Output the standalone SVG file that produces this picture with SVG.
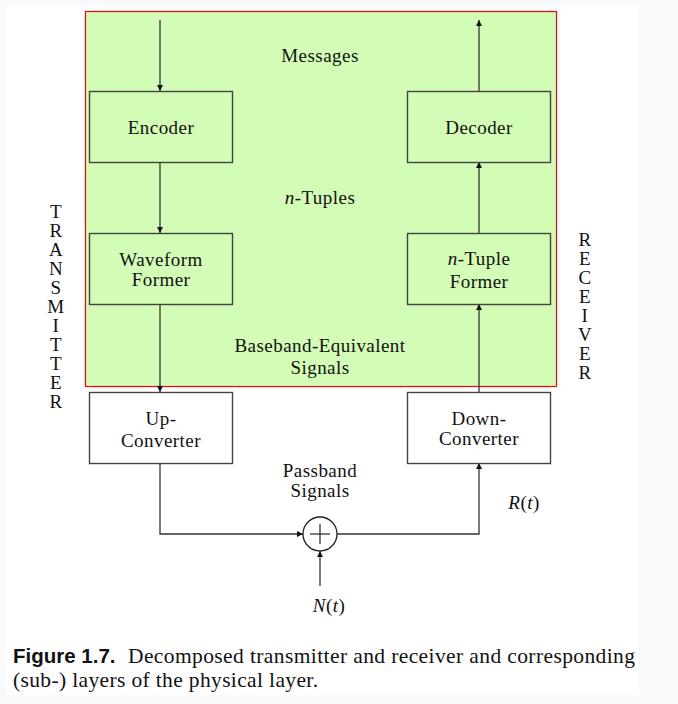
<svg xmlns="http://www.w3.org/2000/svg" width="678" height="704" viewBox="0 0 678 704">
<defs>
<marker id="ah" viewBox="0 0 10 10" refX="10" refY="5" markerWidth="6" markerHeight="8" orient="auto" markerUnits="userSpaceOnUse">
<path d="M0,0 L10,5 L0,10 Z" fill="#111"/>
</marker>
<style>
.box{fill:#d3fcb6;stroke:#444;stroke-width:1.4}
.wbox{fill:#ffffff;stroke:#444;stroke-width:1.4}
.ln{fill:none;stroke:#333;stroke-width:1.3}
.t{font-family:"Liberation Serif","DejaVu Serif",serif;font-size:19px;fill:#111;text-anchor:middle;letter-spacing:0.45px}
.it{font-style:italic}
.cap{font-family:"Liberation Serif","DejaVu Serif",serif;font-size:21.5px;fill:#111}
.capb{font-family:"Liberation Sans",Arial,sans-serif;font-size:20.5px;font-weight:bold;fill:#111}
</style>
</defs>
<rect x="0" y="0" width="678" height="704" fill="#f8f9fa"/>
<rect x="6" y="5" width="633" height="690" fill="#ffffff"/>
<rect id="layer" x="85.5" y="11.5" width="471" height="375" fill="#d3fcb6" stroke="#ff0000" stroke-width="1.2"/>

<g id="connectors">
<line class="ln" x1="160" y1="20" x2="160" y2="91" marker-end="url(#ah)"/>
<line class="ln" x1="160" y1="162" x2="160" y2="233" marker-end="url(#ah)"/>
<line class="ln" x1="160" y1="304" x2="160" y2="392" marker-end="url(#ah)"/>
<polyline class="ln" points="160,463 160,534 303,534" marker-end="url(#ah)"/>
<polyline class="ln" points="337,534 479,534 479,463" marker-end="url(#ah)"/>
<line class="ln" x1="320" y1="586" x2="320" y2="551" marker-end="url(#ah)"/>
<line class="ln" x1="479" y1="392" x2="479" y2="304" marker-end="url(#ah)"/>
<line class="ln" x1="479" y1="233" x2="479" y2="162" marker-end="url(#ah)"/>
<line class="ln" x1="479" y1="91" x2="479" y2="20" marker-end="url(#ah)"/>
</g>

<g id="encoder"><rect class="box" x="89.5" y="91.5" width="143" height="71"/><text class="t" x="161" y="134">Encoder</text></g>
<g id="decoder"><rect class="box" x="407.5" y="91.5" width="143" height="71"/><text class="t" x="479" y="134">Decoder</text></g>
<g id="waveform"><rect class="box" x="89.5" y="233.5" width="143" height="71"/><text class="t" x="161" y="266">Waveform</text><text class="t" x="161" y="286">Former</text></g>
<g id="ntuple"><rect class="box" x="407.5" y="233.5" width="143" height="71"/><text class="t" x="479" y="265"><tspan class="it">n</tspan>-Tuple</text><text class="t" x="479" y="288">Former</text></g>
<g id="upconv"><rect class="wbox" x="89.5" y="392.5" width="143" height="71"/><text class="t" x="161" y="425">Up-</text><text class="t" x="161" y="447">Converter</text></g>
<g id="downconv"><rect class="wbox" x="407.5" y="392.5" width="143" height="71"/><text class="t" x="479" y="425">Down-</text><text class="t" x="479" y="445">Converter</text></g>
<g id="adder"><circle cx="320" cy="534" r="17" fill="#fff" stroke="#222" stroke-width="1.3"/><line x1="310" y1="534" x2="330" y2="534" stroke="#222" stroke-width="1.2"/><line x1="320" y1="524" x2="320" y2="544" stroke="#222" stroke-width="1.2"/></g>

<g id="labels">
<text class="t" x="320" y="62">Messages</text>
<text class="t" x="320" y="204"><tspan class="it">n</tspan>-Tuples</text>
<text class="t" x="320" y="352">Baseband-Equivalent</text>
<text class="t" x="320" y="374">Signals</text>
<text class="t" x="320" y="477">Passband</text>
<text class="t" x="320" y="497">Signals</text>
<text class="t" x="524" y="509" letter-spacing="1.5"><tspan class="it">R</tspan>(<tspan class="it">t</tspan>)</text>
<text class="t" x="329" y="612" letter-spacing="1.5"><tspan class="it">N</tspan>(<tspan class="it">t</tspan>)</text>
</g>

<g id="transmitter">
<text class="t" x="56" y="218">T</text>
<text class="t" x="56" y="237">R</text>
<text class="t" x="56" y="256">A</text>
<text class="t" x="56" y="275">N</text>
<text class="t" x="56" y="294">S</text>
<text class="t" x="56" y="313">M</text>
<text class="t" x="56" y="332">I</text>
<text class="t" x="56" y="351">T</text>
<text class="t" x="56" y="370">T</text>
<text class="t" x="56" y="389">E</text>
<text class="t" x="56" y="408">R</text>
</g>
<g id="receiver">
<text class="t" x="585" y="246">R</text>
<text class="t" x="585" y="265">E</text>
<text class="t" x="585" y="284">C</text>
<text class="t" x="585" y="303">E</text>
<text class="t" x="585" y="322">I</text>
<text class="t" x="585" y="341">V</text>
<text class="t" x="585" y="360">E</text>
<text class="t" x="585" y="379">R</text>
</g>

<g id="caption">
<text class="capb" x="13" y="663">Figure 1.7.</text>
<text class="cap" x="128" y="663" textLength="507" lengthAdjust="spacing">Decomposed transmitter and receiver and corresponding</text>
<text class="cap" x="13" y="687" textLength="305" lengthAdjust="spacing">(sub-) layers of the physical layer.</text>
</g>
</svg>
